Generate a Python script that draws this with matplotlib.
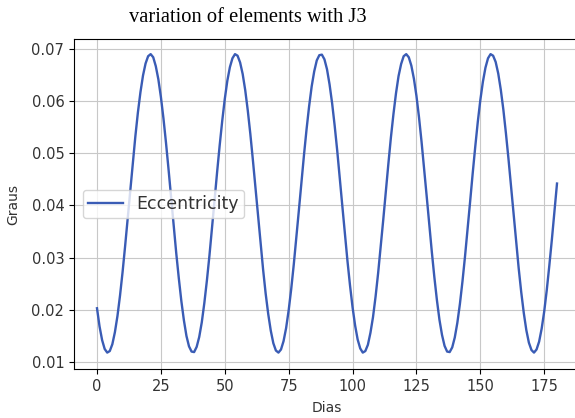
import numpy as np
import matplotlib
matplotlib.use("Agg")
import matplotlib.pyplot as plt

# eccentricity sampled once per day, 0..180
days = np.arange(0, 181)
ecc = [
    0.0203, 0.0168, 0.0142, 0.0125, 0.0118, 0.0121, 0.0134, 0.0157, 0.0188, 0.0227,
    0.0272, 0.0322, 0.0375, 0.0429, 0.0482, 0.0532, 0.0578, 0.0617, 0.0649, 0.0672,
    0.0686, 0.0690, 0.0684, 0.0667, 0.0642, 0.0608, 0.0567, 0.0520, 0.0469, 0.0415,
    0.0362, 0.0309, 0.0261, 0.0217, 0.0180, 0.0150, 0.0130, 0.0120, 0.0119, 0.0129,
    0.0148, 0.0176, 0.0213, 0.0256, 0.0304, 0.0356, 0.0410, 0.0464, 0.0515, 0.0562,
    0.0604, 0.0639, 0.0665, 0.0682, 0.0690, 0.0687, 0.0674, 0.0652, 0.0621, 0.0582,
    0.0537, 0.0487, 0.0434, 0.0380, 0.0327, 0.0277, 0.0231, 0.0192, 0.0160, 0.0136,
    0.0122, 0.0118, 0.0124, 0.0140, 0.0165, 0.0199, 0.0240, 0.0287, 0.0338, 0.0391,
    0.0445, 0.0497, 0.0546, 0.0590, 0.0628, 0.0657, 0.0678, 0.0688, 0.0689, 0.0680,
    0.0661, 0.0632, 0.0596, 0.0553, 0.0505, 0.0453, 0.0399, 0.0346, 0.0294, 0.0247,
    0.0205, 0.0170, 0.0143, 0.0126, 0.0118, 0.0121, 0.0133, 0.0156, 0.0186, 0.0225,
    0.0270, 0.0320, 0.0372, 0.0426, 0.0479, 0.0530, 0.0575, 0.0615, 0.0648, 0.0671,
    0.0686, 0.0690, 0.0684, 0.0668, 0.0643, 0.0610, 0.0569, 0.0522, 0.0471, 0.0418,
    0.0364, 0.0312, 0.0263, 0.0219, 0.0181, 0.0152, 0.0131, 0.0120, 0.0119, 0.0128,
    0.0147, 0.0175, 0.0211, 0.0254, 0.0302, 0.0354, 0.0407, 0.0461, 0.0512, 0.0560,
    0.0602, 0.0637, 0.0664, 0.0682, 0.0690, 0.0687, 0.0675, 0.0653, 0.0622, 0.0584,
    0.0539, 0.0490, 0.0437, 0.0383, 0.0330, 0.0280, 0.0234, 0.0194, 0.0161, 0.0137,
    0.0123, 0.0118, 0.0124, 0.0139, 0.0164, 0.0197, 0.0238, 0.0285, 0.0335, 0.0389,
    0.0442,
]

fig = plt.figure(figsize=(5.75, 4.18), dpi=100)
# axes run a bit past the right edge, like the cropped original
ax = fig.add_axes([74 / 575, 48.7 / 418, 506 / 575, 330.3 / 418])
ax.plot(days, ecc, color="#3a5cb5", lw=1.7, label="Eccentricity")
ax.set_xlim(-9, 189)
ax.set_ylim(0.0086, 0.0719)
ax.set_xticks([0, 25, 50, 75, 100, 125, 150, 175])
ax.set_yticks([0.01, 0.02, 0.03, 0.04, 0.05, 0.06, 0.07])
ax.grid(True, color="#c8c8c8")
ax.tick_params(labelsize=10.5, labelcolor="#333333")
ax.set_xlabel("Dias", fontsize=10, color="#333333", labelpad=5)
ax.set_ylabel("Graus", fontsize=10, color="#333333", labelpad=8)
leg = ax.legend(loc="center left", fontsize=12.5, borderpad=0.3)
for txt in leg.get_texts():
    txt.set_color("#333333")
fig.text(0.4305, 0.957, "variation of elements with J3", family="Liberation Serif",
         fontsize=14.8, ha="center", va="center")
fig.savefig("out.png")
